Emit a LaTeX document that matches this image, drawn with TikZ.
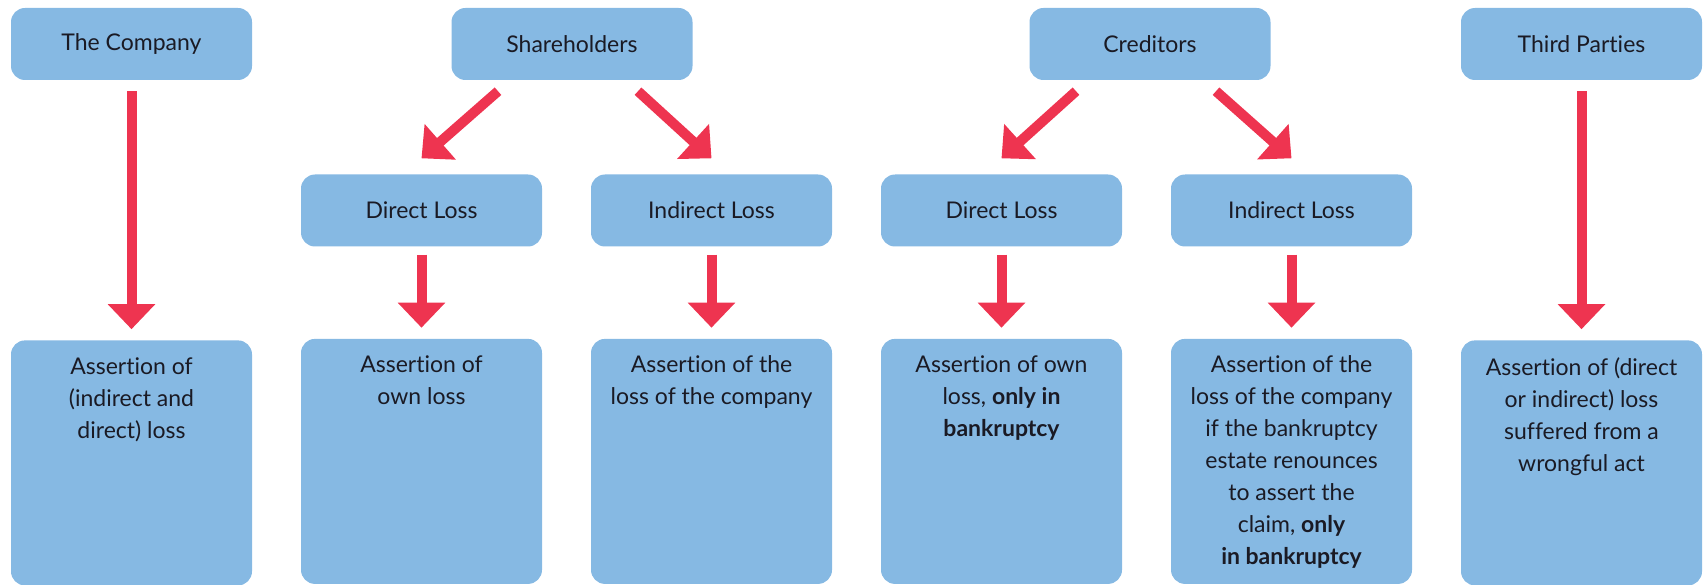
\documentclass[tikz,border=0pt]{standalone}
\usepackage{fontspec}
\setsansfont[Ligatures={NoCommon,NoRare}]{Lato}
\usetikzlibrary{positioning,arrows.meta}
\definecolor{boxblue}{RGB}{134,185,227}
\definecolor{arrowred}{RGB}{238,52,80}
\definecolor{ink}{RGB}{26,26,36}

\begin{document}
\begin{tikzpicture}[
		x=1pt, y=1pt,
		node distance=92pt,
		every node/.style={font=\sffamily\fontsize{23}{32}\selectfont, text=ink},
		rect/.style={rectangle, rounded corners=14pt, fill=boxblue, minimum width=241pt, minimum height=72pt, inner sep=0pt},
		tall/.style={rect, minimum height=245pt},
		arrow/.style={-{Triangle[width=46pt,length=25pt]}, line width=10pt, draw=arrowred}
	]
	\useasboundingbox (0,0) rectangle (1704,-585);

	% Nodes
	\node[rect] (C) at (131.5,-44) {The Company};
	\node[rect] (SH) at (572,-44) {Shareholders};
	\node[rect] (CR) at (1150,-44) {Creditors};
	\node[rect] (TP) at (1581.5,-44) {Third Parties};

	\node[rect] (SD) at (421.5,-210.5) {Direct Loss};
	\node[rect] (SI) at (711.5,-210.5) {Indirect Loss};
	\node[rect] (CD) at (1001.5,-210.5) {Direct Loss};
	\node[rect] (CI) at (1291.5,-210.5) {Indirect Loss};

	\node[tall, below=260pt of C] (CA) {\parbox[t][211pt][t]{228pt}{\centering Assertion of\\(indirect and\\direct) loss}};
	\node[tall, below=of SD] (SDA) {\parbox[t][211pt][t]{228pt}{\centering Assertion of\\own loss}};
	\node[tall, below=of SI] (SIA) {\parbox[t][211pt][t]{228pt}{\centering Assertion of the\\loss of the company}};
	\node[tall, below=of CD] (CDA) {\parbox[t][211pt][t]{228pt}{\centering Assertion of own\\loss, \textbf{only in}\\\textbf{bankruptcy}}};
	\node[tall, below=of CI] (CIA) {\parbox[t][211pt][t]{228pt}{\centering Assertion of the\\loss of the company\\if the bankruptcy\\estate renounces\\to assert the\\claim, \textbf{only}\\\textbf{in bankruptcy}}};
	\node[tall, below=260pt of TP] (TPA) {\parbox[t][211pt][t]{228pt}{\centering Assertion of (direct\\or indirect) loss\\suffered from a\\wrongful act}};

	% Arrows
	\draw[arrow] ([yshift=-11pt]C.south) -- ([yshift=11pt]CA.north);
	\draw[arrow] ([yshift=-11pt]TP.south) -- ([yshift=11pt]TPA.north);

	\draw[arrow] ([shift={(-74pt,-11pt)}]SH.south) -- ([yshift=16pt]SD.north);
	\draw[arrow] ([shift={(66pt,-11pt)}]SH.south) -- ([yshift=16pt]SI.north);
	\draw[arrow] ([shift={(-74pt,-11pt)}]CR.south) -- ([yshift=16pt]CD.north);
	\draw[arrow] ([shift={(66pt,-11pt)}]CR.south) -- ([yshift=16pt]CI.north);

	\draw[arrow] ([yshift=-8pt]SD.south) -- ([yshift=11pt]SDA.north);
	\draw[arrow] ([yshift=-8pt]SI.south) -- ([yshift=11pt]SIA.north);
	\draw[arrow] ([yshift=-8pt]CD.south) -- ([yshift=11pt]CDA.north);
	\draw[arrow] ([yshift=-8pt]CI.south) -- ([yshift=11pt]CIA.north);

\end{tikzpicture}
\end{document}
